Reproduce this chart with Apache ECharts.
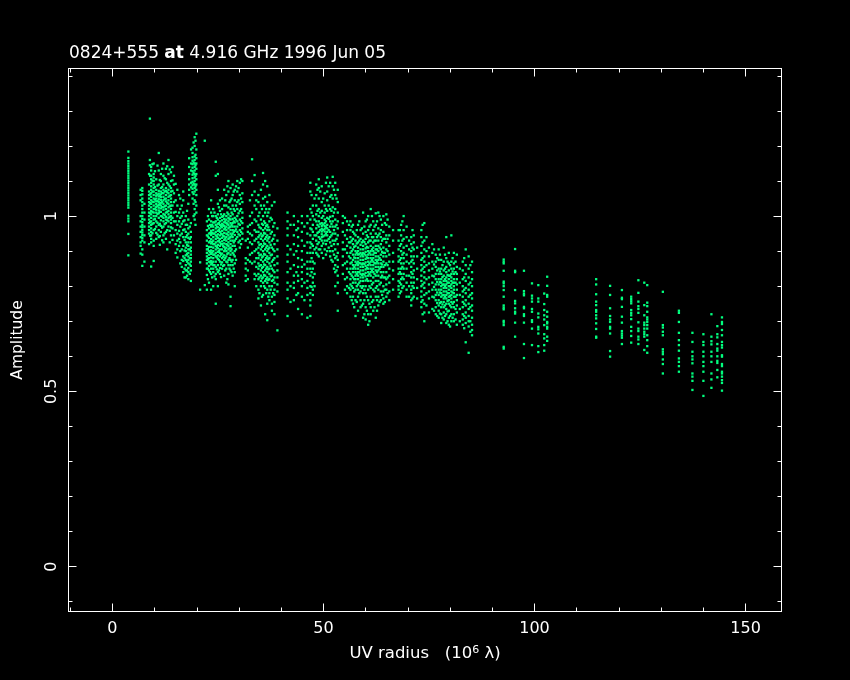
<!DOCTYPE html>
<html><head><meta charset="utf-8">
<style>html,body{margin:0;padding:0;background:#000}#c{width:850px;height:680px}</style>
<script src="https://cdn.jsdelivr.net/npm/echarts@6/dist/echarts.min.js"></script>
</head><body><div id="c"></div>
<script>
// Each entry: [UV radius, amplitude, amplitude, ...]
const bandShort = [
[3.8,1.184,1.166,1.157,1.150,1.143,1.136,1.129,1.122,1.115,1.108,1.101,1.094,1.087,1.080,1.073,1.066,1.059,1.052,1.045,1.038,1.031,1.024,1.001,.993,.985,.949,.888],
[6.7,1.075,1.06,1.045,1.0,.985,.97,.955,.94,.925,.915,.893],
[7.1,1.08,1.072,1.062,1.05,1.04,1.03,1.02,1.01,1.0,.992,.983,.975,.968,.96,.953,.946,.938,.93,.905,.89,.858],
[7.6,1.035,1.01,.99,.97,.945,.925,.87],
[8.7,1.12,1.09,1.07,1.06,1.05,1.04,1.03,1.02,1.01,1,.99,.98,.97,.96,.95,.92],
[8.9,1.278,1.16,1.145],
[9.2,1.14,1.13,1.115,1.105,1.095,1.085,1.075,1.065,1.055,1.045,1.035,1.025,1.015,1.005,.995,.985,.975,.965,.955,.945,.935,.925,.856],
[9.8,1.15,1.12,1.11,1.10,1.09,1.08,1.07,1.06,1.05,1.04,1.03,1.02,1.01,1.0,.99,.98,.96,.93,.915,.872],
[10.4,1.105,1.075,1.065,1.058,1.05,1.042,1.034,1.026,1.018,1.01,1.0,.985,.97,.952,.935],
[11,1.18,1.13,1.09,1.072,1.064,1.056,1.048,1.04,1.032,1.024,1.016,1.008,.995,.975,.96,.94],
[11.5,1.12,1.1,1.08,1.07,1.062,1.054,1.046,1.038,1.03,1.022,1.012,1.0,.988,.972,.955],
[12.1,1.15,1.115,1.09,1.075,1.065,1.055,1.045,1.035,1.025,1.018,1.006,.995,.985,.97,.945,.925],
[12.7,1.135,1.105,1.08,1.072,1.06,1.05,1.042,1.03,1.02,1.01,.998,.99,.98,.955,.935],
[13.3,1.16,1.12,1.09,1.075,1.065,1.055,1.045,1.035,1.025,1.015,1.005,.995,.985,.97],
[13.9,1.125,1.1,1.08,1.07,1.06,1.05,1.04,1.03,1.02,1.01,1,.99,.98,.968,.945],
[14.6,1.115,1.09,1.065,1.04,1.01,.985,.945],
[15.4,1.075,1.03,1.0,.975,.95,.93,.905,.882],
[16.1,1.05,1.02,.995,.97,.945,.925,.9,.865],
[16.8,1.07,1.045,1.01,.985,.96,.94,.915,.885,.872,.84],
[17.4,1.0,.975,.955,.94,.925,.91,.9,.888,.875,.86,.845,.825],
[18,1.035,.99,.965,.95,.938,.925,.915,.905,.895,.885,.875,.865,.852,.84,.82],
[18.6,.98,.955,.94,.925,.91,.9,.89,.88,.87,.858,.845,.815],
[18.2,1.165,1.14,1.12,1.105,1.09,1.075,1.06],
[19,1.195,1.18,1.168,1.158,1.148,1.138,1.128,1.118,1.108,1.098,1.088,1.078,1.068,1.05],
[19.5,1.225,1.2,1.17,1.16,1.15,1.14,1.13,1.12,1.11,1.1,1.09,1.08,1.07,1.045,1.02,1.005,.99],
[19.9,1.235,1.19,1.165,1.15,1.135,1.12,1.105,1.09,1.075,1.06,1.03,1.01]
];
const bandMid = [
[20.8,.868,.79],[21.9,1.215,.803],[22.4,.985,.96,.945,.93,.915,.905,.895,.885,.875,.865,.85,.832,.79],
[22.9,1.02,.99,.965,.95,.938,.925,.912,.9,.89,.88,.87,.858,.845,.81],
[23.4,1.045,1.01,.985,.97,.958,.946,.934,.922,.912,.902,.892,.882,.872,.862,.85,.835,.79],
[23.9,1.02,1.0,.982,.97,.96,.95,.94,.93,.92,.91,.9,.89,.88,.87,.86,.85,.84,.8],
[24.5,1.155,1.115,1.0,.985,.975,.965,.955,.945,.935,.925,.915,.905,.895,.885,.87,.855,.835,.82,.75],
[25,1.12,1.075,1.035,1.005,.99,.978,.968,.958,.948,.938,.928,.918,.908,.898,.888,.878,.86,.84,.8],
[25.5,1.045,1.015,.995,.985,.975,.965,.955,.945,.935,.925,.915,.905,.895,.885,.87,.852,.835],
[26,1.05,1.02,.998,.988,.978,.968,.958,.948,.938,.928,.92,.905,.893,.88,.868,.85],
[26.5,1.075,1.03,1.005,.992,.982,.972,.962,.952,.942,.932,.922,.912,.9,.888,.875,.86,.83],
[27,1.06,1.03,1.0,.99,.98,.97,.96,.95,.94,.93,.92,.91,.9,.885,.87,.85,.81],
[27.5,1.1,1.07,1.025,1.005,.995,.985,.975,.965,.955,.945,.935,.925,.915,.905,.895,.875,.86,.835,.805],
[28,1.08,1.045,1.02,1.0,.99,.98,.97,.96,.95,.94,.93,.92,.91,.9,.89,.875,.86,.845,.743,.77],
[28.5,1.09,1.06,1.03,1.005,.992,.98,.97,.96,.95,.94,.93,.915,.895,.875,.86,.83],
[29,1.075,1.045,1.015,.995,.982,.97,.958,.946,.93,.915,.9,.885,.865,.84,.8],
[29.6,1.1,1.07,1.04,1.02,1.0,.985,.97,.955,.94],
[30.2,1.095,1.06,1.035,1.015,.99,.975,.96,.945,.93,.91],
[30.8,1.1,1.065,1.04,1.01,.995,.98,.965,.95,.935],
[31.6,.93,.88,.865,.85,.83,.815],[32.1,.97,.955,.935,.91,.875,.845,.82],
[32.6,1.045,1.0,.975,.95,.925,.89,.87],[33.1,1.162,1.1,1.06,1.01,.98,.945,.92,.895,.865],
[33.7,1.117,1.07,1.03,.99,.96,.93,.9,.87,.835,.82],[34.1,1.045,1.02,.985,.955,.935,.905,.88,.855,.83,.8],
[34.6,1.06,1.04,1.0,.975,.955,.94,.925,.91,.895,.88,.865,.85,.835,.82,.79,.765],
[35.2,1.075,1.03,.99,.965,.95,.935,.92,.905,.89,.875,.86,.845,.83,.815,.8,.745],
[35.7,1.123,1.09,1.05,1.0,.975,.96,.945,.93,.915,.9,.885,.87,.855,.84,.825,.81,.775],
[36.2,1.1,1.055,1.01,.98,.965,.95,.935,.92,.905,.89,.875,.86,.845,.83,.815,.795,.72],
[36.7,1.085,1.04,1.0,.975,.96,.945,.93,.915,.9,.885,.87,.855,.84,.825,.81,.79,.75,.703],
[37.2,1.06,1.02,.985,.96,.94,.925,.91,.895,.88,.865,.85,.835,.82,.8,.78,.76],
[37.8,1.03,.99,.955,.93,.91,.89,.87,.85,.83,.815,.8,.77,.75,.73],
[38.4,1.04,.98,.945,.92,.9,.88,.86,.84,.825,.81,.79,.775,.755,.72],
[39.1,.965,.93,.905,.885,.865,.845,.825,.805,.785,.674],
[41.5,1.01,.985,.965,.945,.915,.89,.87,.84,.81,.79,.765,.715],
[43,1.0,.975,.945,.92,.89,.86,.83,.81,.795,.76],[44,.985,.965,.94,.915,.88,.855,.83,.815,.78,.735],
[44.9,1.0,.98,.955,.93,.9,.875,.855,.84,.82,.8,.77,.72],[46.2,1.0,.98,.95,.925,.895,.87,.85,.835,.815,.795,.775,.71],
[46.9,1.095,1.07,1.02,.99,.965,.945,.925,.91,.895,.87,.85,.83,.8,.78,.76,.745,.715],
[47.5,1.03,1.0,.975,.955,.935,.915,.895,.87,.85,.825,.81,.79,.775],
[48.3,1.09,1.06,1.03,1.005,.985,.965,.945,.93,.91,.895],
[48.9,1.105,1.08,1.05,1.02,1.0,.985,.97,.955,.94,.925,.905,.885],
[49.6,1.085,1.04,1.015,.995,.98,.972,.964,.956,.948,.94,.93,.915,.895],
[50.3,1.065,1.03,1.01,.99,.98,.972,.964,.956,.945,.93,.905],
[50.9,1.11,1.07,1.045,1.015,.995,.975,.965,.955,.945,.93,.9],
[51.6,1.095,1.055,1.02,.998,.985,.97,.955,.94,.925,.9,.885],
[52.2,1.112,1.085,1.05,1.025,1.0,.985,.97,.95,.93,.9,.87],
[52.8,1.095,1.06,1.02,.99,.97,.95,.93,.905,.88,.86,.84,.8],
[53.4,1.075,1.04,1.01,.985,.965,.945,.92,.895,.875,.855,.83,.81,.78,.73],
[54.6,1.0,.98,.955,.925,.905,.885,.86,.835],
[55.6,.985,.96,.935,.915,.895,.87,.85,.825,.8,.78],
[56.4,.985,.96,.94,.925,.91,.895,.88,.865,.85,.835,.82,.805,.79,.77],
[57,.975,.955,.935,.92,.905,.89,.875,.86,.85,.84,.825,.81,.795,.77,.75],
[57.6,1.0,.945,.93,.915,.9,.89,.88,.87,.86,.85,.84,.83,.82,.81,.79,.76,.715],
[58.2,.975,.94,.925,.91,.9,.89,.88,.87,.86,.85,.84,.83,.82,.805,.79,.77,.73],
[58.8,.96,.935,.918,.905,.895,.885,.875,.865,.855,.845,.835,.825,.815,.8,.785,.76,.74],
[59.4,1.01,.95,.93,.915,.905,.895,.885,.875,.865,.855,.845,.835,.825,.815,.8,.78,.75,.71],
[60,.985,.955,.935,.92,.908,.898,.888,.878,.868,.858,.848,.838,.828,.816,.8,.78,.74,.705],
[60.6,1.0,.96,.94,.925,.91,.9,.89,.88,.87,.86,.85,.84,.83,.815,.79,.76,.72,.69]
];
const bandLong = [
[61.2,1.02,.975,.95,.93,.915,.9,.89,.88,.87,.86,.85,.84,.83,.815,.795,.77,.74,.72],
[61.8,.985,.96,.94,.925,.91,.9,.89,.88,.87,.86,.85,.84,.825,.81,.79,.76,.73],
[62.4,1.008,.975,.95,.93,.915,.905,.895,.885,.875,.865,.855,.845,.83,.815,.795,.77,.71],
[63,1.01,.965,.945,.93,.915,.9,.885,.875,.865,.855,.845,.83,.815,.79,.77,.745],
[63.6,.99,.96,.94,.92,.905,.89,.875,.865,.855,.84,.825,.81,.785,.76],
[64.2,1.0,.955,.935,.91,.895,.885,.87,.855,.84,.825,.8,.785,.765,.75],
[64.9,1.005,.975,.945,.925,.905,.885,.865,.84,.82,.805,.79,.77],
[65.6,.97,.945,.915,.89,.87,.85,.83,.81,.785,.76],
[66.5,.96,.93,.895,.87,.845,.82,.79],
[67.8,.96,.93,.905,.885,.87,.85,.835,.815,.8,.79,.77],
[68.4,.975,.945,.92,.9,.88,.865,.85,.835,.82,.805,.785],
[69,1.0,.96,.935,.91,.895,.88,.865,.85,.835,.82,.8],
[69.7,.97,.94,.915,.89,.87,.85,.83,.81,.79,.77],
[70.8,.94,.92,.9,.885,.87,.855,.84,.825,.81,.79,.78,.76,.745],
[71.4,.945,.925,.905,.885,.865,.845,.825,.81,.795,.77],
[72.2,.91,.885,.85,.82,.795,.765],
[73.2,.96,.94,.915,.895,.875,.86,.845,.83,.815,.8,.785,.77,.755,.74],
[73.9,.98,.93,.905,.885,.87,.855,.84,.825,.81,.795,.775,.75,.725,.7],
[75,.91,.885,.865,.845,.825,.805,.785,.765,.725],
[75.8,.92,.895,.87,.85,.83,.81,.79,.77,.735],
[76.6,.89,.87,.855,.835,.82,.805,.79,.775,.76,.74,.72],
[77.3,.905,.875,.85,.835,.82,.805,.79,.775,.76,.745,.73,.71],
[77.9,.875,.85,.835,.82,.81,.8,.79,.78,.77,.755,.74,.72,.695],
[78.5,.91,.87,.845,.83,.815,.805,.795,.785,.775,.765,.755,.74,.725,.705],
[79.1,.94,.88,.855,.84,.825,.815,.805,.795,.785,.775,.765,.75,.735,.72,.695],
[79.7,.895,.865,.845,.83,.82,.81,.8,.79,.78,.77,.76,.75,.73,.71,.69],
[80.3,.945,.87,.85,.835,.825,.815,.805,.795,.785,.775,.765,.755,.74,.72,.7],
[80.9,.895,.865,.85,.835,.82,.81,.8,.79,.78,.77,.755,.74,.72,.7],
[81.6,.89,.855,.835,.82,.805,.79,.775,.76,.745,.725,.69],
[83,.87,.845,.82,.8,.785,.77,.755,.74,.72,.705,.69],
[83.7,.905,.86,.835,.815,.795,.78,.76,.745,.725,.71,.695,.64],
[84.4,.885,.85,.825,.805,.79,.77,.75,.735,.715,.7,.685,.61],
[85.2,.87,.84,.82,.8,.78,.765,.745,.73,.71,.69,.675,.66],
[92.7,.876,.870,.865,.844,.813,.808,.800,.789,.770,.745,.739,.734,.701,.696,.689,.627,.622],
[95.4,.906,.844,.840,.789,.758,.751,.737,.727,.722,.696,.656],
[97.5,.844,.786,.779,.774,.741,.737,.720,.715,.696,.635,.595],
[99.4,.808,.773,.765,.756,.735,.727,.703,.698,.679,.632],
[100.9,.803,.765,.756,.722,.711,.684,.677,.665,.629,.612],
[102.3,.779,.749,.732,.717,.705,.689,.663,.651,.632,.616],
[103,.827,.801,.775,.770,.727,.713,.698,.694,.684,.679,.656,.644],
[114.6,.820,.805,.777,.756,.746,.732,.727,.717,.708,.694,.678,.656,.653],
[117.9,.801,.775,.737,.715,.705,.698,.684,.679,.665,.615,.599],
[120.7,.789,.767,.763,.741,.713,.696,.672,.665,.659,.653,.635],
[122.9,.770,.763,.757,.751,.732,.724,.717,.706,.684,.672,.658,.639],
[124.6,.817,.781,.756,.743,.735,.724,.697,.679,.672,.656,.648,.635],
[126,.810,.746,.717,.696,.689,.679,.670,.663,.656,.618],
[126.7,.803,.753,.743,.727,.711,.705,.698,.689,.679,.660,.646,.629,.610],
[130.4,.784,.689,.682,.670,.660,.620,.613,.606,.591,.578,.551],
[134.2,.730,.724,.698,.667,.646,.632,.616,.594,.584,.572,.556],
[137.4,.667,.641,.613,.600,.591,.580,.551,.542,.530,.504],
[140,.663,.641,.632,.613,.600,.584,.572,.556,.530,.487],
[141.9,.720,.656,.643,.634,.613,.600,.584,.551,.534,.510],
[143.3,.686,.663,.654,.635,.622,.616,.600,.587,.581,.561,.540],
[144.4,.711,.698,.692,.675,.660,.641,.632,.625,.603,.599,.578,.572,.556,.551,.542,.532,.524,.502]
];
const coreA = [
[8.95,1.115,1.062,1.037,1.008,.983,.944],[9.5,1.148,1.101,1.07,1.041,1.012,.978,.951],[10.1,1.128,1.083,1.047,1.021,.992,.963],
[10.7,1.144,1.087,1.061,1.043,1.029,1.006,.981,.947],[11.25,1.103,1.058,1.034,1.012,.978,.943,.918],[11.8,1.135,1.083,1.066,1.04,1.026,.999,.967,.931],
[12.4,1.108,1.07,1.049,1.028,1.003,.977,.951],[13,1.142,1.095,1.068,1.038,1.012,.988,.96,.905],[13.6,1.133,1.085,1.058,1.028,.998,.958,.925],
[14.25,1.14,1.102,1.072,1.03,.995,.965,.932],[15,1.092,1.045,1.012,.985,.96,.92,.895],[15.8,1.06,1.01,.985,.958,.935,.915],
[16.45,1.03,1.0,.978,.95,.905,.875,.855],[17.1,.988,.962,.932,.902,.88,.85,.825],[17.7,1.015,.975,.945,.918,.892,.87,.845,.83],[18.35,.97,.935,.905,.88,.862,.835],
[18.65,1.19,1.15,1.13,1.095,1.082],[19.25,1.21,1.153,1.123,1.093,1.063,1.035,1.0],[19.7,1.215,1.175,1.145,1.115,1.085,1.04,.975],
[22.65,1.0,.972,.942,.906,.878,.85,.82],[23.15,.975,.952,.928,.898,.868,.84],[23.65,1.0,.975,.952,.926,.896,.866,.825],[24.2,1.01,.982,.95,.92,.89,.86,.828],
[24.75,.995,.97,.942,.912,.882,.848],[25.25,1.025,.98,.96,.93,.9,.875,.845],[25.75,1.005,.972,.95,.92,.89,.862,.826],[26.25,1.0,.974,.944,.914,.884,.858],
[26.75,1.045,.985,.966,.936,.906,.88,.845],[27.25,1.085,1.01,.978,.948,.918,.892,.868,.82],[27.75,1.04,.992,.968,.938,.908,.88,.85],[28.25,1.05,1.01,.975,.945,.905,.87,.84],
[28.75,1.07,1.02,.985,.955,.925,.89,.85],[29.3,1.085,1.03,.99,.962,.935,.905,.875],[29.9,1.08,1.045,1.008,.978,.948,.925],[30.5,1.105,1.05,1.02,.985,.955,.92],
[34.85,1.01,.968,.945,.918,.888,.858,.825,.78],[35.45,1.02,.978,.942,.912,.882,.852,.822,.77],[35.95,1.03,.985,.952,.922,.892,.862,.832,.8],[36.45,1.02,.972,.94,.91,.88,.85,.82,.78],
[36.95,1.01,.968,.936,.906,.878,.848,.818,.77],[37.5,.995,.95,.918,.888,.858,.828,.79],[38.1,.97,.935,.905,.875,.845,.818,.78]
];
const coreB = [
[42.2,.975,.905,.85,.8,.755],[43.6,.96,.9,.84,.775],[45.5,.97,.915,.862,.81,.76],[47.2,1.06,1.01,.962,.92,.88,.84,.798],[47.9,1.05,.99,.945,.905,.865,.835,.8],
[48.6,1.075,1.015,.975,.952,.92,.89],[49.25,1.07,1.01,.978,.96,.935,.905],[49.95,1.05,1.0,.976,.96,.942,.922,.88],[50.6,1.095,1.02,.985,.968,.95,.92,.89],[51.25,1.085,1.03,.992,.96,.935,.91],
[51.9,1.06,1.015,.978,.945,.915,.875],[52.5,1.075,1.01,.96,.92,.89,.85],[53.1,1.05,.975,.935,.885,.845],[55.1,.995,.945,.905,.865,.82,.79],[56.05,.975,.925,.885,.84,.795],
[56.7,.97,.93,.9,.868,.83,.8,.76],[57.3,.95,.912,.882,.855,.82,.785,.74],[57.9,.96,.922,.895,.865,.835,.8,.755],[58.5,.985,.93,.892,.866,.84,.81,.78],[59.1,.965,.925,.89,.862,.832,.795,.745],
[59.7,.97,.926,.892,.863,.833,.79,.76,.72],[60.3,.99,.945,.912,.882,.852,.82,.77,.73],[60.9,.97,.93,.895,.865,.835,.8,.75,.7],[61.5,1.0,.94,.905,.875,.845,.805,.755],[62.1,.97,.93,.895,.866,.835,.785,.74],
[62.7,.985,.94,.905,.87,.84,.8,.76,.73],[63.3,1.0,.95,.91,.88,.85,.805,.755],[63.9,.975,.93,.898,.862,.83,.775],[64.55,.98,.935,.895,.86,.825,.79,.755],[65.2,.99,.935,.9,.86,.825,.78],
[68.1,.96,.915,.875,.84,.81,.78],[68.7,.985,.93,.89,.855,.825,.795],[70.3,.93,.905,.865,.83,.8,.77],[71.1,.96,.91,.875,.835,.8,.765],[73.5,.975,.925,.88,.85,.805,.76,.72],
[74.4,.94,.9,.86,.82,.78,.745],[76.2,.905,.862,.828,.798,.768,.73],[76.95,.88,.845,.812,.782,.752,.715],[77.6,.89,.842,.812,.782,.752,.722],[78.2,.86,.826,.804,.774,.748,.71],
[78.8,.89,.85,.82,.8,.77,.745,.715],[79.4,.87,.832,.81,.78,.758,.728,.7],[80,.86,.83,.8,.772,.745,.715,.685],[80.6,.88,.842,.81,.782,.75,.71],[81.3,.87,.84,.81,.77,.735,.705],
[82.3,.85,.81,.775,.735,.7],[83.35,.88,.825,.79,.75,.715,.68],[84.8,.86,.81,.775,.74,.7,.67]
];
const xMajor = [0,50,100,150];
const xMinor = [-10,10,20,30,40,60,70,80,90,110,120,130,140];
const yMajor = [0,0.5,1];
const yMinor = [-0.1,0.1,0.2,0.3,0.4,0.6,0.7,0.8,0.9,1.1,1.2,1.3,1.4];
const xRange = [-10.38,158.5];
const yRange = [-0.128,1.421];
const titleParts = ['0824+555 ','at',' 4.916 GHz 1996 Jun 05'];
const xName = 'UV radius';
const yName = 'Amplitude';

const points = [];
[bandShort,bandMid,bandLong,coreA,coreB].forEach(b=>b.forEach(t=>{for(let i=1;i<t.length;i++)points.push([t[0],t[i]]);}));

const W='#fff', FONT='"DejaVu Sans"';
const lineS={show:true,lineStyle:{color:W,width:1},onZero:false};
function ax(range,pos,ticks,len,extra){return Object.assign({type:'value',min:range[0],max:range[1],position:pos,
  axisLine:lineS,splitLine:{show:false},
  axisTick:{show:true,inside:true,length:len,lineStyle:{color:W,width:1},customValues:ticks},
  axisLabel:{show:false}},extra||{});}
const chart=echarts.init(document.getElementById('c'),null,{renderer:'canvas'});
chart.setOption({
  backgroundColor:'#000',animation:false,
  title:{left:64,top:40,text:'{n|'+titleParts[0]+'}{b|'+titleParts[1]+'}{n|'+titleParts[2]+'}',
    textStyle:{color:W,fontWeight:'normal',rich:{n:{color:W,fontFamily:FONT,fontSize:17,fontWeight:'normal'},b:{color:W,fontFamily:FONT,fontSize:17,fontWeight:'bold'}}}},
  grid:{left:68.5,top:68.5,width:713,height:543,containLabel:false,outerBoundsMode:'none'},
  xAxis:[
    ax(xRange,'bottom',xMajor,8,{axisLabel:{show:true,color:W,fontFamily:FONT,fontSize:16,margin:9,customValues:xMajor},
      name:'{n|'+xName+'   (10}{s|6}{n| λ)}',nameLocation:'middle',nameGap:33,
      nameTextStyle:{color:W,rich:{n:{color:W,fontFamily:FONT,fontSize:16.5},s:{color:W,fontFamily:FONT,fontSize:11,verticalAlign:'top',padding:[0,0,7,0]}}}}),
    ax(xRange,'bottom',xMinor,4),ax(xRange,'top',xMajor,8),ax(xRange,'top',xMinor,4)],
  yAxis:[
    ax(yRange,'left',yMajor,8,{axisLabel:{show:true,color:W,fontFamily:FONT,fontSize:16,rotate:90,margin:9,customValues:yMajor},
      name:yName,nameLocation:'middle',nameGap:43,nameRotate:90,nameTextStyle:{color:W,fontFamily:FONT,fontSize:15.5}}),
    ax(yRange,'left',yMinor,4),ax(yRange,'right',yMajor,8),ax(yRange,'right',yMinor,4)],
  series:[{type:'scatter',xAxisIndex:0,yAxisIndex:0,data:points,symbol:'rect',symbolSize:2.3,itemStyle:{color:'#00ff7f',opacity:1},silent:true}]
});
</script></body></html>
